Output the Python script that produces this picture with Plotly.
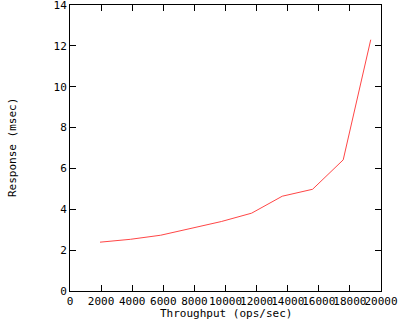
import plotly.graph_objects as go

throughput = [1930, 3880, 5830, 7780, 9730, 11680, 13650, 15600, 17570, 19340]
response = [2.39, 2.53, 2.73, 3.07, 3.40, 3.81, 4.64, 4.98, 6.42, 12.3]

x_ticks = [0, 2000, 4000, 6000, 8000, 10000, 12000, 14000, 16000, 18000, 20000]
y_ticks = [0, 2, 4, 6, 8, 10, 12, 14]

font = dict(family="DejaVu Sans Mono", size=11, color="black")

fig = go.Figure()
fig.add_trace(go.Scatter(x=throughput, y=response, mode="lines",
                         line=dict(color="rgb(255,70,70)", width=1),
                         showlegend=False, hoverinfo="skip"))

axis_common = dict(showgrid=False, zeroline=False, showline=True, linecolor="black",
                   linewidth=1, mirror="allticks", ticks="inside", ticklen=6,
                   tickcolor="black", tickwidth=1, tickfont=font,
                   ticklabeloverflow="allow", automargin=False)

fig.update_layout(
    width=400, height=320,
    margin=dict(l=70, r=19, t=5, b=29),
    paper_bgcolor="white", plot_bgcolor="white",
    font=font,
    xaxis=dict(range=[0, 20000], tickmode="array", tickvals=x_ticks,
               ticktext=[str(v) for v in x_ticks], tickangle=0, **axis_common),
    yaxis=dict(range=[0, 14], tickmode="array", tickvals=y_ticks,
               ticktext=[str(v) for v in y_ticks], **axis_common),
    annotations=[
        dict(text="Throughput (ops/sec)", xref="paper", yref="paper", x=0.5, y=0,
             yshift=-22, xanchor="center", yanchor="middle", showarrow=False, font=font),
        dict(text="Response (msec)", xref="paper", yref="paper", x=0, y=0.5,
             xshift=-58, xanchor="center", yanchor="middle", textangle=-90,
             showarrow=False, font=font),
    ],
)

fig.write_html("out.html", config={"displayModeBar": False},
               post_script="document.body.style.margin='0';")
